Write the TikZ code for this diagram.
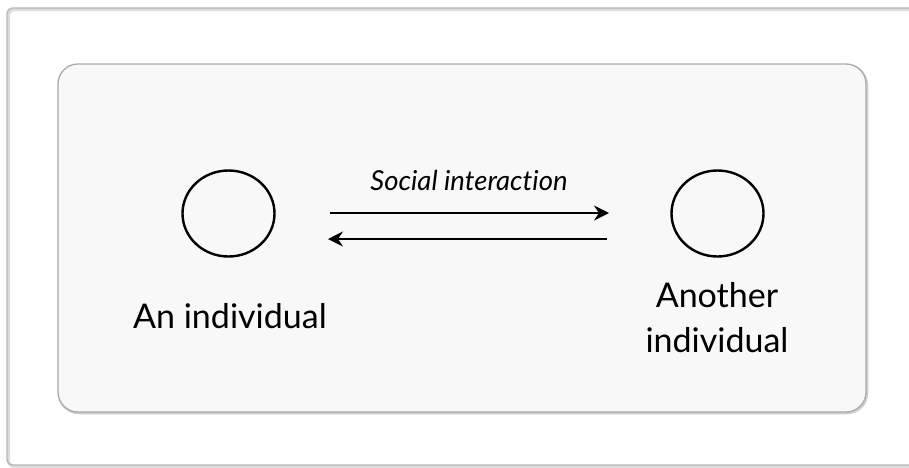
\documentclass[tikz,border=0pt]{standalone}
\usepackage{fontspec}
\setmainfont[Ligatures={NoCommon,NoRequired,NoContextual}]{Lato}
\usetikzlibrary{shapes.geometric,arrows.meta}
\definecolor{boxfill}{HTML}{F8F8F8}
\definecolor{boxline}{HTML}{ABABAB}
\definecolor{frameline}{HTML}{B8B8B8}
\tikzset{
  person/.style={ellipse, draw=black, line width=2.4pt, minimum width=92pt, minimum height=86pt, inner sep=0pt},
  lbl/.style={font=\fontsize{34}{45}\selectfont, align=center, inner sep=0pt, anchor=base},
  flow/.style={line width=2pt, -{Stealth[length=15pt,width=15pt,inset=5pt]}},
}
\begin{document}
\begin{tikzpicture}[x=1pt,y=-1pt]
\useasboundingbox (0,0) rectangle (909,467);
\fill[white] (0,0) rectangle (909,467);
% outer frame
\begin{scope}
\clip (0,0) rectangle (909,467);
\draw[frameline!50, line width=3pt, rounded corners=6pt] (8.5,9.5) rectangle (940,466.5);
\draw[frameline, line width=1.4pt, rounded corners=6pt] (7,8) rectangle (940,465);
\end{scope}
% inner box
\draw[boxline!60, line width=2.5pt, rounded corners=20pt] (59,65.5) rectangle (867,413);
\draw[boxline, fill=boxfill, line width=1.3pt, rounded corners=20pt] (58,64) rectangle (866,412);
% people
\node[person] (p1) at (228.5,213.5) {};
\node[person] (p2) at (717.5,213.5) {};
\node[lbl] (l1) at (230,328) {An individual};
\node[lbl] (l2) at (717,352) {Another\\individual};
% arrows
\coordinate (a1) at (330,213);
\coordinate (a2) at (609,213);
\coordinate (b1) at (607,239);
\coordinate (b2) at (328,239);
\draw[flow] (a1) -- (a2);
\draw[flow] (b1) -- (b2);
\node[font=\fontsize{27.5}{32}\selectfont\itshape, anchor=base, inner sep=0pt] (si) at (469,190) {Social interaction};
\end{tikzpicture}
\end{document}
